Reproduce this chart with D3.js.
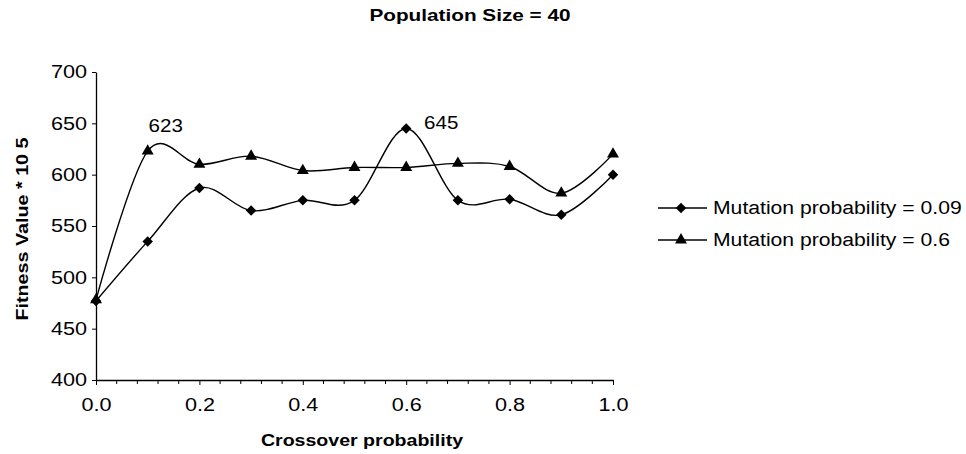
<!DOCTYPE html>
<html><head><meta charset="utf-8">
<script src="https://cdn.jsdelivr.net/npm/d3@7"></script>
<style>
body{margin:0;background:#fff;}
text{font-family:"Liberation Sans",Arial,sans-serif;fill:#000;}
</style></head>
<body><svg id="c" width="966" height="454"></svg>
<script>
const crossover = [0.0,0.1,0.2,0.3,0.4,0.5,0.6,0.7,0.8,0.9,1.0];
const mut009 = [477,535,587,565,575,575,645,575,576,561,600];
const mut06  = [478,623,610,618,604,607,607,611,608,582,620];
const yTicks = [400,450,500,550,600,650,700];
const xTicks = [0.0,0.2,0.4,0.6,0.8,1.0];
const seriesNames = ["Mutation probability = 0.09","Mutation probability = 0.6"];
const annotations = [{x:0.1,v:623,dx:18,dy:-19},{x:0.6,v:645,dx:35,dy:1}];

const svg = d3.select("#c");
const x = d3.scaleLinear().domain([0,1]).range([96,613]);
const y = d3.scaleLinear().domain([400,700]).range([380,72]);

function stretch(sel,k){
  sel.each(function(){
    const l=this.getComputedTextLength();
    this.setAttribute("textLength",l*k);
    this.setAttribute("lengthAdjust","spacingAndGlyphs");
  });
}

// title
svg.append("text").attr("x",470).attr("y",21).attr("text-anchor","middle")
  .attr("font-weight","bold").attr("font-size",17).text("Population Size = 40").call(stretch,1.22);

// y axis
const ya = svg.append("g").attr("transform","translate(96,0)")
  .call(d3.axisLeft(y).tickValues(yTicks).tickSize(4).tickSizeOuter(0).tickPadding(5));
ya.selectAll("text").attr("font-size",18).style("font-family","Liberation Sans, Arial").call(stretch,1.2);
ya.select(".domain").attr("stroke","#000").attr("stroke-width",1.3);

// x axis
const xa = svg.append("g").attr("transform","translate(0,380)")
  .call(d3.axisBottom(x).tickValues(xTicks).tickFormat(d3.format(".1f")).tickSize(5).tickSizeOuter(0).tickPadding(13));
xa.selectAll("text").attr("font-size",18).style("font-family","Liberation Sans, Arial").call(stretch,1.2);
xa.select(".domain").attr("stroke","#000").attr("stroke-width",1.3);
// minor ticks every 0.04
const minor = d3.range(0,1.0001,0.04).filter(v=>!xTicks.some(t=>Math.abs(t-v)<1e-6));
svg.append("g").selectAll("line").data(minor).join("line")
  .attr("x1",d=>x(d)).attr("x2",d=>x(d)).attr("y1",380).attr("y2",384)
  .attr("stroke","#000").attr("stroke-width",1);

// axis titles
svg.append("text").attr("x",362).attr("y",446).attr("text-anchor","middle")
  .attr("font-weight","bold").attr("font-size",17).text("Crossover probability").call(stretch,1.15);
svg.append("text").attr("transform","translate(28,229) rotate(-90)").attr("text-anchor","middle")
  .attr("font-weight","bold").attr("font-size",17).text("Fitness Value * 10 5").call(stretch,1.16);

const line = d3.line().x((d,i)=>x(crossover[i])).y(d=>y(d)).curve(d3.curveCardinal.tension(0));
const diamond = d3.symbol().type(d3.symbolDiamond2).size(70);
const tri = d3.symbol().type(d3.symbolTriangle).size(62);

[[mut06,tri],[mut009,diamond]].forEach(([data,sym])=>{
  svg.append("path").attr("d",line(data)).attr("fill","none").attr("stroke","#000").attr("stroke-width",1.4);
  svg.append("g").selectAll("path").data(data).join("path")
    .attr("d",sym).attr("transform",(d,i)=>`translate(${x(crossover[i])},${y(d)})`).attr("fill","#000");
});

// annotations
annotations.forEach(a=>{
  svg.append("text").attr("x",x(a.x)+a.dx).attr("y",y(a.v)+a.dy).attr("text-anchor","middle")
    .attr("font-size",19).text(a.v).call(stretch,1.08);
});

// legend
const legY=[208,240];
const syms=[diamond,tri];
seriesNames.forEach((n,i)=>{
  const g=svg.append("g");
  g.append("line").attr("x1",658).attr("x2",707).attr("y1",legY[i]).attr("y2",legY[i]).attr("stroke","#000").attr("stroke-width",1.4);
  g.append("path").attr("d",syms[i]).attr("transform",`translate(681,${legY[i]})`);
  g.append("text").attr("x",713).attr("y",legY[i]+6).attr("font-size",18).text(n).call(stretch,1.175);
});
</script></body></html>
